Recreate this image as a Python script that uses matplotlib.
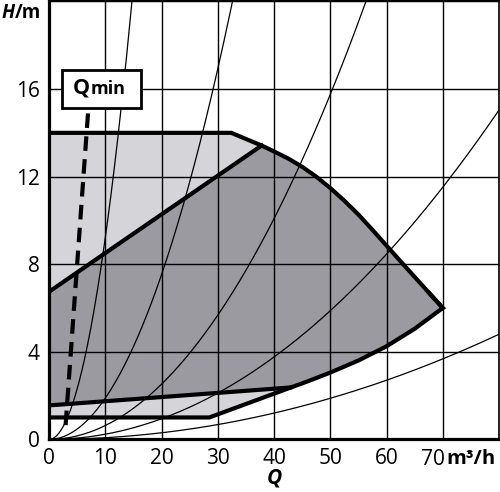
import numpy as np
import matplotlib
matplotlib.use("Agg")
import matplotlib.pyplot as plt
from matplotlib.patches import Polygon, Rectangle

plt.rcParams['font.family'] = ['Open Sans', 'DejaVu Sans']

# ---- data ----
x_ticks = [0, 10, 20, 30, 40, 50, 60, 70]
y_ticks = [0, 4, 8, 12, 16]

# maximum curve (top flat part + falling part)
max_Q = [0, 32.4, 37.8, 40, 42.5, 45, 47.5, 50, 52.5, 55, 57.5, 60, 62.5, 65, 67.5, 70]
max_H = [14.0, 14.0, 13.42, 13.15, 12.83, 12.45, 12.0, 11.48, 10.9, 10.27, 9.57,
         8.85, 8.13, 7.42, 6.71, 6.0]

# diagonal upper boundary of dark field
diag_Q = [0, 37.8]
diag_H = [6.74, 13.42]

# lower limit curve (shared right part)
low_Q = [43, 46, 50, 55, 60, 65, 70]
low_H = [2.37, 2.65, 3.05, 3.6, 4.25, 5.05, 6.0]

# lower boundary of dark field
dark_bot_Q = [0, 43]
dark_bot_H = [1.55, 2.37]

# lower boundary of light field
light_bot_Q = [0, 28.5, 43]
light_bot_H = [1.0, 1.0, 2.37]

# Qmin line
qmin_Q = [2.95, 7.0]
qmin_H = [0.65, 15.13]

# system curves H = k*Q^2
system_k = [0.092, 0.0188, 0.0063, 0.00235, 0.00075]

light_col = '#d5d5d9'
dark_col = '#9a9aa0'

fig = plt.figure(figsize=(5.0, 4.92), dpi=100)
ax = fig.add_axes([0.098, 0.107, 0.900, 0.890])
ax.set_xlim(0, 80)
ax.set_ylim(0, 20)

# light field
light_pts = ([(0, light_bot_H[0]), (0, max_H[0])] +
             list(zip(max_Q[1:], max_H[1:])) +
             list(zip(low_Q[::-1][1:], low_H[::-1][1:])) +
             [(light_bot_Q[1], light_bot_H[1])])
ax.add_patch(Polygon(light_pts, closed=True, facecolor=light_col, edgecolor='none', zorder=1))

# dark field
i0 = max_Q.index(diag_Q[1])
dark_pts = ([(diag_Q[0], diag_H[0])] +
            list(zip(max_Q[i0:], max_H[i0:])) +
            list(zip(low_Q[::-1][1:], low_H[::-1][1:])) +
            [(dark_bot_Q[0], dark_bot_H[0])])
ax.add_patch(Polygon(dark_pts, closed=True, facecolor=dark_col, edgecolor='none', zorder=1))

# grid
ax.set_xticks(x_ticks + [80])
ax.set_xticklabels([str(v) for v in x_ticks[:-1]] + ['', ''])
ax.set_yticks(y_ticks + [20])
ax.set_yticklabels([str(v) for v in y_ticks] + [''])
ax.grid(True, color='black', linewidth=1.0)
ax.tick_params(length=0, labelsize=15, pad=6.5, colors='black')

# system curves
qq = np.linspace(0, 80, 400)
for k in system_k:
    ax.plot(qq, k * qq ** 2, color='black', lw=0.9, zorder=2)

lw = 3.0
ax.plot(max_Q, max_H, color='black', lw=lw, solid_joinstyle='miter', zorder=3)
ax.plot(diag_Q, diag_H, color='black', lw=lw, zorder=3)
ax.plot(dark_bot_Q + low_Q[1:] + [max_Q[-2]], dark_bot_H + low_H[1:] + [max_H[-2]],
        color='black', lw=lw, solid_joinstyle='miter', zorder=3)
ax.plot(light_bot_Q, light_bot_H, color='black', lw=lw, zorder=3)

# Qmin
ax.plot(qmin_Q, qmin_H, color='black', lw=3.0, dashes=(3.5, 2.0), zorder=4)
ax.add_patch(Rectangle((2.3, 15.13), 14.0, 1.73, facecolor='white', edgecolor='black',
                       lw=2.0, zorder=5))
ax.text(4.2, 15.78, 'Q', fontsize=15.5, fontweight='bold', ha='left', va='baseline', zorder=6)
ax.text(7.4, 15.78, 'min', fontsize=13, fontweight='bold', ha='left', va='baseline', zorder=6)

# spines
for s in ['left', 'bottom']:
    ax.spines[s].set_linewidth(2.3)
ax.spines['top'].set_linewidth(1.5)
ax.spines['right'].set_linewidth(1.2)
for s in ax.spines.values():
    s.set_zorder(7)

# axis labels
xt = ax.get_xaxis_transform()
ax.text(70.3, -0.022, '70', transform=xt, ha='right', va='top', fontsize=15)
ax.text(70.6, -0.022, 'm³/h', transform=xt, ha='left', va='top',
        fontsize=14.5, fontweight='bold')
ax.text(40, -0.064, 'Q', transform=xt, ha='center', va='top',
        fontsize=15, fontweight='bold', style='italic')
fig.text(0.004, 0.993, 'H', ha='left', va='top', fontsize=13.5, fontweight='bold', style='italic')
fig.text(0.029, 0.993, '/m', ha='left', va='top', fontsize=13.5, fontweight='bold')

fig.savefig('out.png', dpi=100)
